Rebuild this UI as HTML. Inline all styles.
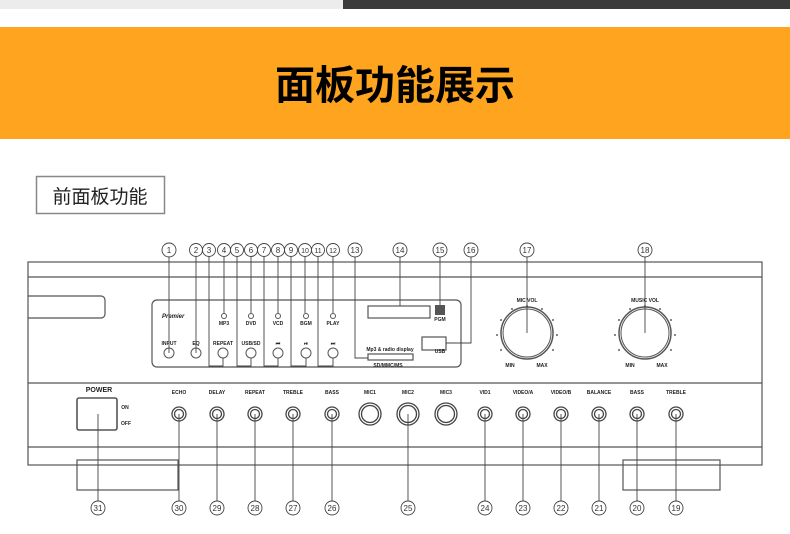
<!DOCTYPE html>
<html><head><meta charset="utf-8"><style>
html,body{margin:0;padding:0;background:#fff;width:790px;height:534px;overflow:hidden}
svg{display:block}
.t{font-family:"Liberation Sans",sans-serif;font-weight:bold;fill:#222}
</style></head><body>
<svg width="790" height="534" viewBox="0 0 790 534" xmlns="http://www.w3.org/2000/svg">
<rect x="0" y="0" width="343" height="9" fill="#ececec"/>
<rect x="343" y="0" width="447" height="9" fill="#3a3a3a"/>
<rect x="0" y="27" width="790" height="112" fill="#ffa41f"/>
<text x="395" y="99" text-anchor="middle" font-family="'Liberation Sans','Noto Sans CJK SC',sans-serif" font-size="40" font-weight="bold" fill="#000">面板功能展示</text>
<rect x="36.5" y="176.5" width="128" height="37" fill="#fff" stroke="#888" stroke-width="1.5"/>
<text x="100" y="203" text-anchor="middle" font-family="'Liberation Sans','Noto Sans CJK SC',sans-serif" font-size="19" fill="#222">前面板功能</text>
<g fill="none" stroke="#555" stroke-width="1.2">
<rect x="28" y="262" width="734" height="203"/>
<line x1="28" y1="277" x2="762" y2="277"/>
<line x1="28" y1="383" x2="762" y2="383"/>
<line x1="28" y1="447" x2="762" y2="447"/>
<path d="M28 296 H101 a4 4 0 0 1 4 4 V314 a4 4 0 0 1 -4 4 H28"/>
<rect x="152" y="300" width="309" height="67" rx="5"/>
<rect x="77" y="460" width="101" height="30"/>
<rect x="623" y="460" width="97" height="30"/>
<rect x="368" y="306" width="62" height="12"/>
<rect x="368" y="354" width="45" height="6"/>
<rect x="422" y="337" width="24" height="13"/>
<rect x="77" y="398" width="40" height="32" rx="2" stroke-width="1.6"/>
</g>
<rect x="435" y="305" width="10" height="10" fill="#555"/>
<g fill="none" stroke="#555" stroke-width="1">
<circle cx="527" cy="333" r="26" stroke-width="1.5"/><circle cx="527" cy="333" r="24"/>
<circle cx="645" cy="333" r="26" stroke-width="1.5"/><circle cx="645" cy="333" r="24"/>
</g>
<g fill="#333">
<circle cx="512" cy="309" r="0.9"/><circle cx="527" cy="306" r="0.9"/><circle cx="542" cy="309" r="0.9"/><circle cx="501" cy="320" r="0.9"/><circle cx="553" cy="320" r="0.9"/><circle cx="497" cy="335" r="0.9"/><circle cx="557" cy="335" r="0.9"/><circle cx="501" cy="350" r="0.9"/><circle cx="553" cy="350" r="0.9"/>
<circle cx="630" cy="309" r="0.9"/><circle cx="645" cy="306" r="0.9"/><circle cx="660" cy="309" r="0.9"/><circle cx="619" cy="320" r="0.9"/><circle cx="671" cy="320" r="0.9"/><circle cx="615" cy="335" r="0.9"/><circle cx="675" cy="335" r="0.9"/><circle cx="619" cy="350" r="0.9"/><circle cx="671" cy="350" r="0.9"/>
</g>
<g class="t" font-size="5" text-anchor="middle">
<text x="527" y="302">MIC VOL</text><text x="645" y="302">MUSIC VOL</text>
<text x="510" y="367">MIN</text><text x="542" y="367">MAX</text>
<text x="630" y="367">MIN</text><text x="662" y="367">MAX</text>
<text x="224" y="325">MP3</text><text x="251" y="325">DVD</text><text x="278" y="325">VCD</text><text x="306" y="325">BGM</text><text x="333" y="325">PLAY</text>
<text x="169" y="345">INPUT</text><text x="196" y="345">EQ</text><text x="223" y="345">REPEAT</text><text x="251" y="345">USB/SD</text><text x="278" y="345">⏮</text><text x="306" y="345">⏯</text><text x="333" y="345">⏭</text>
<text x="390" y="351">Mp3 &amp; radio display</text><text x="388" y="367">SD/MMC/MS</text><text x="440" y="321">PGM</text><text x="440" y="353">USB</text>
<text x="179" y="394">ECHO</text><text x="217" y="394">DELAY</text><text x="255" y="394">REPEAT</text><text x="293" y="394">TREBLE</text><text x="332" y="394">BASS</text><text x="370" y="394">MIC1</text><text x="408" y="394">MIC2</text><text x="446" y="394">MIC3</text><text x="485" y="394">VID1</text><text x="523" y="394">VIDEO/A</text><text x="561" y="394">VIDEO/B</text><text x="599" y="394">BALANCE</text><text x="637" y="394">BASS</text><text x="676" y="394">TREBLE</text>
<text x="125" y="409">ON</text><text x="126" y="425">OFF</text>
</g>
<text x="99" y="392" class="t" font-size="7" text-anchor="middle">POWER</text>
<text x="162" y="318" class="t" font-size="6" font-style="italic">Premier</text>
<g fill="#fff" stroke="#555" stroke-width="1">
<circle cx="224" cy="316" r="2.5"/><circle cx="251" cy="316" r="2.5"/><circle cx="278" cy="316" r="2.5"/><circle cx="306" cy="316" r="2.5"/><circle cx="333" cy="316" r="2.5"/>
<circle cx="169" cy="353" r="5"/><circle cx="196" cy="353" r="5"/><circle cx="223" cy="353" r="5"/><circle cx="251" cy="353" r="5"/><circle cx="278" cy="353" r="5"/><circle cx="306" cy="353" r="5"/><circle cx="333" cy="353" r="5"/>
</g>
<g fill="none" stroke="#444" stroke-width="1.3">
<circle cx="179" cy="414" r="7"/><circle cx="179" cy="414" r="4.5"/>
<circle cx="217" cy="414" r="7"/><circle cx="217" cy="414" r="4.5"/>
<circle cx="255" cy="414" r="7"/><circle cx="255" cy="414" r="4.5"/>
<circle cx="293" cy="414" r="7"/><circle cx="293" cy="414" r="4.5"/>
<circle cx="332" cy="414" r="7"/><circle cx="332" cy="414" r="4.5"/>
<circle cx="370" cy="414" r="11"/><circle cx="370" cy="414" r="8.5"/>
<circle cx="408" cy="414" r="11"/><circle cx="408" cy="414" r="8.5"/>
<circle cx="446" cy="414" r="11"/><circle cx="446" cy="414" r="8.5"/>
<circle cx="485" cy="414" r="7"/><circle cx="485" cy="414" r="4.5"/>
<circle cx="523" cy="414" r="7"/><circle cx="523" cy="414" r="4.5"/>
<circle cx="561" cy="414" r="7"/><circle cx="561" cy="414" r="4.5"/>
<circle cx="599" cy="414" r="7"/><circle cx="599" cy="414" r="4.5"/>
<circle cx="637" cy="414" r="7"/><circle cx="637" cy="414" r="4.5"/>
<circle cx="676" cy="414" r="7"/><circle cx="676" cy="414" r="4.5"/>
</g>
<g fill="none" stroke="#444" stroke-width="0.9">
<path d="M169 257 V353"/><path d="M196 257 V353"/>
<path d="M209 257 V366 H223 V358"/><path d="M237 257 V366 H251 V358"/><path d="M264 257 V366 H278 V358"/><path d="M291 257 V366 H306 V358"/><path d="M318 257 V366 H333 V358"/>
<path d="M224 257 V313"/><path d="M251 257 V313"/><path d="M278 257 V313"/><path d="M305 257 V313"/><path d="M333 257 V313"/>
<path d="M355 257 V358 H368"/><path d="M400 257 V306"/><path d="M440 257 V305"/><path d="M471 257 V343 H446"/>
<path d="M527 257 V333"/><path d="M645 257 V333"/>
<path d="M98 414 V501"/>
<path d="M179 414 V501"/><path d="M217 414 V501"/><path d="M255 414 V501"/><path d="M293 414 V501"/><path d="M332 414 V501"/><path d="M408 414 V501"/><path d="M485 414 V501"/><path d="M523 414 V501"/><path d="M561 414 V501"/><path d="M599 414 V501"/><path d="M637 414 V501"/><path d="M676 414 V501"/>
</g>
<g fill="#fff" stroke="#444" stroke-width="0.9">
<circle cx="169" cy="250" r="7"/><circle cx="196" cy="250" r="6.5"/><circle cx="209" cy="250" r="6.5"/><circle cx="224" cy="250" r="6.5"/><circle cx="237" cy="250" r="6.5"/><circle cx="251" cy="250" r="6.5"/><circle cx="264" cy="250" r="6.5"/><circle cx="278" cy="250" r="6.5"/><circle cx="291" cy="250" r="6.5"/><circle cx="305" cy="250" r="6.5"/><circle cx="318" cy="250" r="6.5"/><circle cx="333" cy="250" r="6.5"/><circle cx="355" cy="250" r="7"/><circle cx="400" cy="250" r="7"/><circle cx="440" cy="250" r="7"/><circle cx="471" cy="250" r="7"/><circle cx="527" cy="250" r="7"/><circle cx="645" cy="250" r="7"/>
<circle cx="98" cy="508" r="7"/><circle cx="179" cy="508" r="7"/><circle cx="217" cy="508" r="7"/><circle cx="255" cy="508" r="7"/><circle cx="293" cy="508" r="7"/><circle cx="332" cy="508" r="7"/><circle cx="408" cy="508" r="7"/><circle cx="485" cy="508" r="7"/><circle cx="523" cy="508" r="7"/><circle cx="561" cy="508" r="7"/><circle cx="599" cy="508" r="7"/><circle cx="637" cy="508" r="7"/><circle cx="676" cy="508" r="7"/>
</g>
<g font-family="'Liberation Sans',sans-serif" font-size="8" fill="#333" text-anchor="middle">
<text x="169" y="253">1</text><text x="196" y="253">2</text><text x="209" y="253">3</text><text x="224" y="253">4</text><text x="237" y="253">5</text><text x="251" y="253">6</text><text x="264" y="253">7</text><text x="278" y="253">8</text><text x="291" y="253">9</text><text x="305" y="253" font-size="7">10</text><text x="318" y="253" font-size="7">11</text><text x="333" y="253" font-size="7">12</text><text x="355" y="253">13</text><text x="400" y="253">14</text><text x="440" y="253">15</text><text x="471" y="253">16</text><text x="527" y="253">17</text><text x="645" y="253">18</text>
<text x="98" y="511">31</text><text x="179" y="511">30</text><text x="217" y="511">29</text><text x="255" y="511">28</text><text x="293" y="511">27</text><text x="332" y="511">26</text><text x="408" y="511">25</text><text x="485" y="511">24</text><text x="523" y="511">23</text><text x="561" y="511">22</text><text x="599" y="511">21</text><text x="637" y="511">20</text><text x="676" y="511">19</text>
</g>
</svg>
</body></html>
